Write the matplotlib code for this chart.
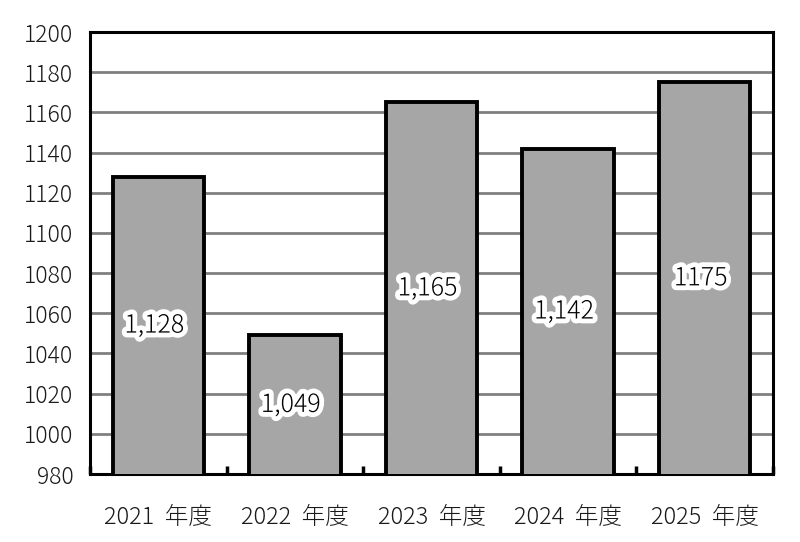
import numpy as np
import matplotlib
matplotlib.use("Agg")
import matplotlib.pyplot as plt
import matplotlib.patheffects as pe

plt.rcParams['font.family'] = ['Noto Sans CJK JP', 'DejaVu Sans']

years = ["2021  年度", "2022  年度", "2023  年度", "2024  年度", "2025  年度"]
values = [1128, 1049, 1165, 1142, 1175]
value_labels = ["1,128", "1,049", "1,165", "1,142", "1175"]
y_ticks = np.arange(980, 1201, 20)

fig = plt.figure(figsize=(8, 5.42), dpi=100)
ax = fig.add_axes([90 / 800, 1 - 474 / 542, 683 / 800, 442 / 542])

x = np.arange(len(years))
ax.bar(x, values, width=0.67, bottom=0, color="#a6a6a6", edgecolor="black",
       linewidth=2.8, zorder=3)

ax.set_ylim(980, 1200)
ax.set_xlim(-0.5, len(years) - 0.5)
ax.set_yticks(y_ticks)
ax.set_yticklabels([str(v) for v in y_ticks], fontsize=16.5, color="#1a1a1a",
                   fontweight="light")
ax.tick_params(axis="y", length=0, pad=12)
ax.yaxis.grid(True, color="#808080", linewidth=2, zorder=0)

ax.set_xticks(x)
ax.set_xticklabels(years, fontsize=17, color="#1a1a1a", fontweight="light")
ax.tick_params(axis="x", which="major", length=0, pad=22)
ax.set_xticks(np.arange(-0.5, len(years)), minor=True)
ax.tick_params(axis="x", which="minor", direction="in", length=6, width=2.5)

for s in ax.spines.values():
    s.set_linewidth(2.2)
    s.set_color("black")

for xi, v, lab in zip(x, values, value_labels):
    mid = (980 + v) / 2
    ax.text(xi - 0.03, mid, lab, ha="center", va="center", fontsize=18,
            color="black", fontweight="light", zorder=5,
            path_effects=[pe.withStroke(linewidth=7, foreground="white")])

fig.savefig("out.png", dpi=100)
